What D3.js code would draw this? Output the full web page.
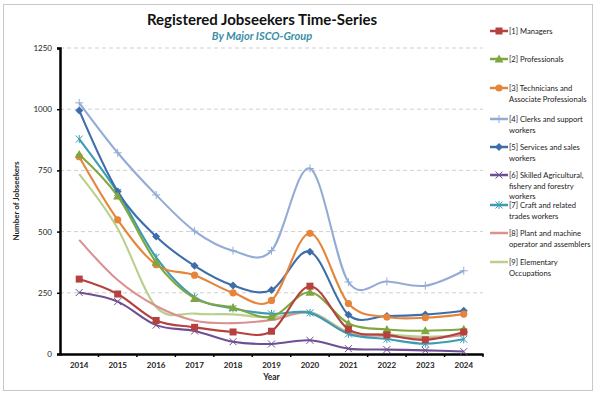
<!DOCTYPE html>
<html>
<head>
<meta charset="utf-8">
<script src="https://cdn.jsdelivr.net/npm/d3@7"></script>
<style>
  body { margin: 0; background: #fff; }
  svg { display: block; font-family: Lato, "Open Sans", sans-serif; }
</style>
</head>
<body>
<svg></svg>
<script>
var years = [2014, 2015, 2016, 2017, 2018, 2019, 2020, 2021, 2022, 2023, 2024];
var yTicks = [0, 250, 500, 750, 1000, 1250];

var managers      = [306, 245, 137, 109, 90, 93, 277, 101, 78, 58, 90];
var professionals = [815, 645, 375, 227, 190, 152, 252, 125, 100, 95, 101];
var technicians   = [806, 548, 365, 322, 250, 219, 493, 206, 151, 148, 163];
var clerks        = [1026, 822, 650, 502, 422, 422, 758, 294, 296, 279, 340];
var services      = [995, 664, 480, 360, 280, 261, 418, 160, 155, 161, 177];
var skilled       = [251, 214, 118, 94, 50, 41, 56, 22, 18, 15, 10];
var craft         = [878, 660, 395, 232, 186, 164, 168, 82, 61, 42, 60];
var plant         = [466, 302, 196, 136, 126, 139, 168, 84, 74, 63, 79];
var elementary    = [735, 513, 192, 165, 162, 149, 172, 90, 80, 70, 77];

var seriesNames = [
  ["[1] Managers"],
  ["[2] Professionals"],
  ["[3] Technicians and", "Associate Professionals"],
  ["[4] Clerks and support", "workers"],
  ["[5] Services and sales", "workers"],
  ["[6] Skilled Agricultural,", "fishery and forestry", "workers"],
  ["[7] Craft and related", "trades workers"],
  ["[8] Plant and machine", "operator and assemblers"],
  ["[9] Elementary", "Occupations"]
];
var seriesValues = [managers, professionals, technicians, clerks, services, skilled, craft, plant, elementary];
var colors = ["#b5423f", "#7fa63f", "#e5853b", "#93acd6", "#3e6ea9", "#6f4f94", "#3a9db4", "#d99291", "#b9d08e"];
var markers = ["square", "triangle", "circle", "plus", "diamond", "cross", "star", "none", "none"];
var legendY = [31, 59, 88, 119, 147, 175, 205, 233, 262];

var svgWidth = 600, svgHeight = 394;
var plotLeft = 60, plotRight = 483, plotTop = 48, plotBottom = 354;

var svg = d3.select('svg')
    .attr('width', svgWidth)
    .attr('height', svgHeight);

// outer frame
svg.append('rect')
    .attr('x', 3.5).attr('y', 4.5)
    .attr('width', 589).attr('height', 386)
    .attr('fill', 'none')
    .attr('stroke', '#c8c8c8');

svg.append('text')
    .attr('x', 262).attr('y', 25)
    .attr('text-anchor', 'middle')
    .attr('font-size', '15px')
    .attr('font-weight', 'bold')
    .attr('fill', '#111')
    .text('Registered Jobseekers Time-Series');

svg.append('text')
    .attr('x', 262).attr('y', 40)
    .attr('text-anchor', 'middle')
    .attr('font-size', '11px')
    .attr('font-weight', 'bold')
    .attr('font-style', 'italic')
    .attr('fill', '#3a8ea6')
    .text('By Major ISCO-Group');

var x = d3.scaleBand().domain(years).range([plotLeft, plotRight]).paddingInner(0).paddingOuter(0);
var y = d3.scaleLinear().domain([0, 1250]).range([plotBottom, plotTop]);
function cx(d) { return x(d) + x.bandwidth() / 2; }

// gridlines
svg.append('g').selectAll('line')
    .data(yTicks.filter(function(d) { return d > 0; }))
    .enter().append('line')
    .attr('x1', plotLeft).attr('x2', plotRight)
    .attr('y1', function(d) { return y(d); })
    .attr('y2', function(d) { return y(d); })
    .attr('stroke', '#cfcfcf')
    .attr('stroke-dasharray', '4,3');

// y axis
var yAxis = svg.append('g')
    .attr('transform', 'translate(' + plotLeft + ',0)')
    .call(d3.axisLeft(y).tickValues(yTicks).tickFormat(d3.format('d')).tickSize(3).tickPadding(5));
yAxis.select('.domain').attr('stroke', '#000').attr('stroke-width', 2.5);
yAxis.selectAll('.tick line').attr('stroke', '#000').attr('stroke-width', 1.5);
yAxis.selectAll('text').attr('font-size', '8px').attr('fill', '#222').attr('font-family', 'Lato, sans-serif');

// x axis
var xAxis = svg.append('g')
    .attr('transform', 'translate(0,' + plotBottom + ')')
    .call(d3.axisBottom(x).tickSize(0).tickPadding(8).tickSizeOuter(0));
xAxis.select('.domain').attr('stroke', '#000').attr('stroke-width', 2.5);
xAxis.selectAll('text').attr('font-size', '8px').attr('font-weight', 'bold').attr('fill', '#222').attr('font-family', 'Lato, sans-serif');
xAxis.selectAll('.boundary')
    .data(years.slice(1).concat(['end']))
    .enter().append('line')
    .attr('x1', function(d) { return d === 'end' ? plotRight : x(d); })
    .attr('x2', function(d) { return d === 'end' ? plotRight : x(d); })
    .attr('y1', 0).attr('y2', 3)
    .attr('stroke', '#000').attr('stroke-width', 1.5);

svg.append('text')
    .attr('x', (plotLeft + plotRight) / 2).attr('y', 380)
    .attr('text-anchor', 'middle')
    .attr('font-size', '8.5px')
    .attr('font-weight', 'bold')
    .attr('fill', '#222')
    .text('Year');

svg.append('text')
    .attr('transform', 'translate(19,' + ((plotTop + plotBottom) / 2) + ') rotate(-90)')
    .attr('text-anchor', 'middle')
    .attr('font-size', '8px')
    .attr('font-weight', 'bold')
    .attr('fill', '#222')
    .text('Number of Jobseekers');

var line = d3.line()
    .x(function(d, i) { return cx(years[i]); })
    .y(function(d) { return y(d); })
    .curve(d3.curveCardinal.tension(0));

function drawMarker(g, type, color, px, py) {
  if (type === 'square') {
    g.append('rect').attr('x', px - 3.5).attr('y', py - 3.5).attr('width', 7).attr('height', 7).attr('fill', color);
  } else if (type === 'triangle') {
    g.append('path').attr('d', 'M' + px + ',' + (py - 4.5) + 'L' + (px + 4.5) + ',' + (py + 3.5) + 'L' + (px - 4.5) + ',' + (py + 3.5) + 'Z').attr('fill', color);
  } else if (type === 'circle') {
    g.append('circle').attr('cx', px).attr('cy', py).attr('r', 3.6).attr('fill', color);
  } else if (type === 'diamond') {
    g.append('path').attr('d', 'M' + px + ',' + (py - 4) + 'L' + (px + 4) + ',' + py + 'L' + px + ',' + (py + 4) + 'L' + (px - 4) + ',' + py + 'Z').attr('fill', color);
  } else if (type === 'plus') {
    g.append('path').attr('d', 'M' + (px - 4) + ',' + py + 'H' + (px + 4) + 'M' + px + ',' + (py - 4) + 'V' + (py + 4)).attr('stroke', color).attr('stroke-width', 1);
  } else if (type === 'cross') {
    g.append('path').attr('d', 'M' + (px - 3.5) + ',' + (py - 3.5) + 'L' + (px + 3.5) + ',' + (py + 3.5) + 'M' + (px + 3.5) + ',' + (py - 3.5) + 'L' + (px - 3.5) + ',' + (py + 3.5)).attr('stroke', color).attr('stroke-width', 1);
  } else if (type === 'star') {
    g.append('path').attr('d', 'M' + (px - 3.5) + ',' + (py - 3.5) + 'L' + (px + 3.5) + ',' + (py + 3.5) + 'M' + (px + 3.5) + ',' + (py - 3.5) + 'L' + (px - 3.5) + ',' + (py + 3.5) + 'M' + px + ',' + (py - 4) + 'V' + (py + 4)).attr('stroke', color).attr('stroke-width', 1);
  }
}

// draw in reverse so Managers ends up on top
var plot = svg.append('g');
for (var s = seriesValues.length - 1; s >= 0; s--) {
  var g = plot.append('g');
  g.append('path')
      .datum(seriesValues[s])
      .attr('d', line)
      .attr('fill', 'none')
      .attr('stroke', colors[s])
      .attr('stroke-width', 2.1);
  seriesValues[s].forEach(function(v, i) {
    drawMarker(g, markers[s], colors[s], cx(years[i]), y(v));
  });
}

// legend
var legend = svg.append('g');
seriesNames.forEach(function(lines, s) {
  var ly = legendY[s];
  var lg = legend.append('g');
  lg.append('line')
      .attr('x1', 490).attr('x2', 508)
      .attr('y1', ly).attr('y2', ly)
      .attr('stroke', colors[s]).attr('stroke-width', 2.5);
  drawMarker(lg, markers[s], colors[s], 499, ly);
  var t = lg.append('text')
      .attr('x', 509).attr('y', ly + 3)
      .attr('font-size', '7.6px')
      .attr('fill', '#222');
  lines.forEach(function(txt, k) {
    t.append('tspan').attr('x', 509).attr('dy', k === 0 ? 0 : 10.5).text(txt);
  });
});
</script>
</body>
</html>
